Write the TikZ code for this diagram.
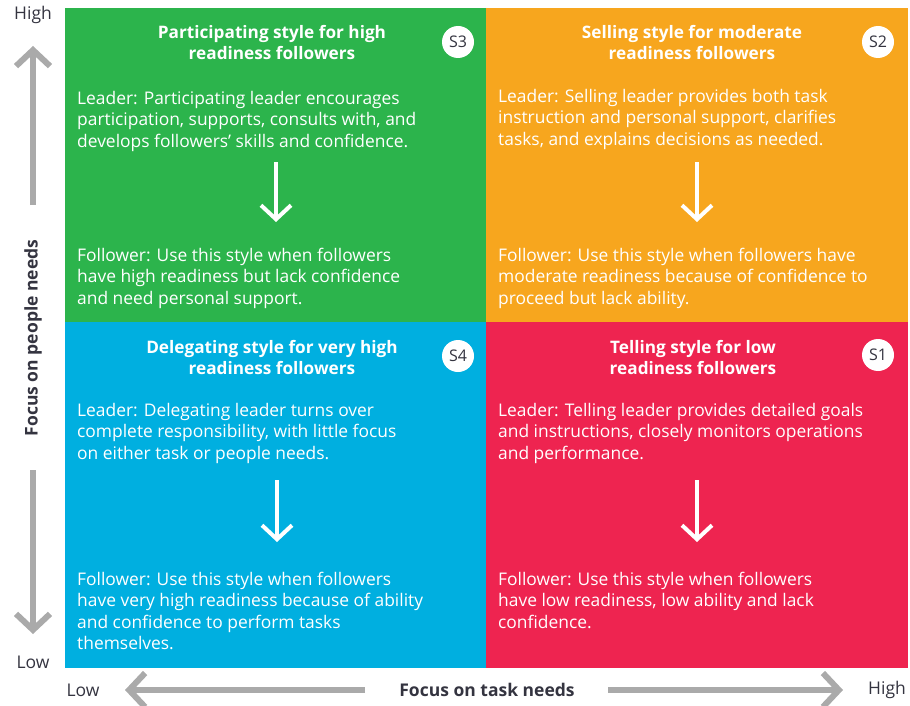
\documentclass[tikz,border=0pt]{standalone}
\usepackage{fontspec}
\setmainfont{Open Sans}
\usetikzlibrary{arrows.meta}

\definecolor{quadgreen}{RGB}{44,180,76}
\definecolor{quadorange}{RGB}{247,166,30}
\definecolor{quadblue}{RGB}{0,175,224}
\definecolor{quadred}{RGB}{238,36,80}
\definecolor{axisgray}{RGB}{170,170,170}
\definecolor{labeldark}{RGB}{52,52,64}

\tikzset{
	quadtitle/.style={text=white, font=\bfseries\fontsize{17.2}{20.8}\selectfont, align=center, anchor=north, inner sep=0},
	quadtext/.style={text=white, font=\fontsize{17.4}{21.4}\selectfont, align=left, anchor=north west, inner sep=0},
	badge/.style={circle, fill=white, minimum size=32, inner sep=0, text=labeldark, font=\fontsize{16}{16}\selectfont},
	flow/.style={white, line width=4, -{Straight Barb[length=14,width=30]}},
	axis/.style={axisgray, line width=6, -{Straight Barb[length=16,width=34]}},
	axislabel/.style={text=labeldark, font=\fontsize{17.5}{17.5}\selectfont, inner sep=0},
	axistitle/.style={text=labeldark, font=\bfseries\fontsize{17.5}{17.5}\selectfont, inner sep=0},
}

\begin{document}
\begin{tikzpicture}[x=1pt, y=-1pt]
	\useasboundingbox (0,0) rectangle (910,706);

	% the four quadrants
	\fill[quadgreen] (65,8) rectangle (486,322);
	\fill[quadorange] (486,8) rectangle (908,322);
	\fill[quadblue] (65,322) rectangle (486,668);
	\fill[quadred] (486,322) rectangle (908,668);

	% S3, top left
	\node[quadtitle] (title3) at (272,25) {Participating style for high\\readiness followers};
	\node[badge] (s3) at (458,42) {S3};
	\node[quadtext] (lead3) at (77,91) {Leader: Participating leader encourages\\participation, supports, consults with, and\\develops followers' skills and confidence.};
	\node[quadtext] (foll3) at (77,248) {Follower: Use this style when followers\\have high readiness but lack confidence\\and need personal support.};
	\coordinate (from3) at (276,162);
	\coordinate (to3) at (276,222);
	\draw[flow] (from3) -- (to3);

	% S2, top right
	\node[quadtitle] (title2) at (692,25) {Selling style for moderate\\readiness followers};
	\node[badge] (s2) at (878,42) {S2};
	\node[quadtext] (lead2) at (498,89) {Leader: Selling leader provides both task\\instruction and personal support, clarifies\\tasks, and explains decisions as needed.};
	\node[quadtext] (foll2) at (498,248) {Follower: Use this style when followers have\\moderate readiness because of confidence to\\proceed but lack ability.};
	\coordinate (from2) at (697,162);
	\coordinate (to2) at (697,222);
	\draw[flow] (from2) -- (to2);

	% S4, bottom left
	\node[quadtitle] (title4) at (272,340) {Delegating style for very high\\readiness followers};
	\node[badge] (s4) at (458,356) {S4};
	\node[quadtext] (lead4) at (77,403) {Leader: Delegating leader turns over\\complete responsibility, with little focus\\on either task or people needs.};
	\node[quadtext] (foll4) at (77,572) {Follower: Use this style when followers\\have very high readiness because of ability\\and confidence to perform tasks\\themselves.};
	\coordinate (from4) at (277,480);
	\coordinate (to4) at (277,542);
	\draw[flow] (from4) -- (to4);

	% S1, bottom right
	\node[quadtitle] (title1) at (693,340) {Telling style for low\\readiness followers};
	\node[badge] (s1) at (878,355) {S1};
	\node[quadtext] (lead1) at (498,403) {Leader: Telling leader provides detailed goals\\and instructions, closely monitors operations\\and performance.};
	\node[quadtext] (foll1) at (498,572) {Follower: Use this style when followers\\have low readiness, low ability and lack\\confidence.};
	\coordinate (from1) at (697,480);
	\coordinate (to1) at (697,542);
	\draw[flow] (from1) -- (to1);

	% vertical axis
	\node[axislabel] (yhigh) at (33,15) {High};
	\node[axislabel] (ylow) at (33,662) {Low};
	\node[axistitle, rotate=90] (ytitle) at (33,338) {Focus on people needs};
	\coordinate (yup) at (33,46);
	\coordinate (ydown) at (33,634);
	\draw[axis] (ytitle.east |- 0,205) -- (yup);
	\draw[axis] (ytitle.west |- 0,470) -- (ydown);

	% horizontal axis
	\node[axislabel] (xlow) at (83,690) {Low};
	\node[axislabel] (xhigh) at (887,690) {High};
	\node[axistitle] (xtitle) at (487,690) {Focus on task needs};
	\coordinate (xleft) at (125,690);
	\coordinate (xright) at (843,690);
	\draw[axis] (xtitle.west -| 365,0) -- (xleft);
	\draw[axis] (xtitle.east -| 608,0) -- (xright);
\end{tikzpicture}
\end{document}
